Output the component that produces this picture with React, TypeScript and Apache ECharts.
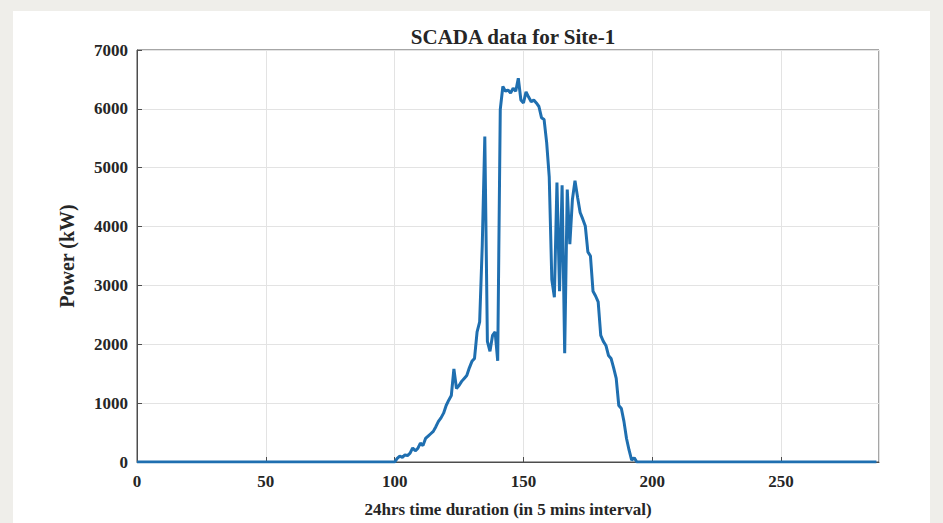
import React, { useEffect, useRef } from "react";
import * as echarts from "echarts";

const titleText = "SCADA data for Site-1";
const xAxisName = "24hrs time duration (in 5 mins interval)";
const yAxisName = "Power (kW)";
const totalPoints = 288;
const activeStart = 101;
// power values (kW) for intervals 101..194, all other intervals are 0
const activeValues = [
  60, 100, 80, 120, 110, 150, 240, 190, 230, 320,
  280, 400, 440, 480, 520, 600, 690, 750, 830, 960,
  1050, 1130, 1580, 1250, 1300, 1370, 1420, 1470, 1600, 1710,
  1760, 2210, 2380, 3670, 5530, 2050, 1880, 2150, 2210, 1720,
  5990, 6380, 6300, 6320, 6270, 6350, 6300, 6520, 6150, 6100,
  6290, 6200, 6120, 6150, 6100, 6040, 5850, 5820, 5430, 4850,
  3100, 2800, 4750, 2900, 4700, 1850, 4630, 3700, 4460, 4780,
  4500, 4240, 4130, 4010, 3570, 3500, 2900, 2820, 2720, 2150,
  2050, 1980, 1810, 1760, 1600, 1420, 960, 910, 690, 400,
  200, 30, 70, 0,
];
const xTicks = [0, 50, 100, 150, 200, 250];
const yTicks = [0, 1000, 2000, 3000, 4000, 5000, 6000, 7000];

export default function App() {
  const ref = useRef<HTMLDivElement>(null);
  useEffect(() => {
    if (!ref.current) return;
    const chart = echarts.init(ref.current, null, { renderer: "svg" });
    const data: [number, number][] = [];
    for (let i = 0; i < totalPoints; i++) {
      const k = i - activeStart;
      const v = k >= 0 && k < activeValues.length ? activeValues[k] : 0;
      data.push([i, v]);
    }
    const font = "'Liberation Serif', 'Times New Roman', serif";
    const txt = "#262626";
    chart.setOption({
      animation: false,
      backgroundColor: "#ffffff",
      title: {
        text: titleText,
        left: 495,
        top: 10,
        textAlign: "center",
        textStyle: { fontFamily: font, fontWeight: "bold", fontSize: 21, color: txt },
      },
      grid: {
        left: 124,
        top: 39,
        width: 742,
        height: 415,
        show: true,
        borderColor: "#4d4d4d",
        borderWidth: 1,
        backgroundColor: "#ffffff",
      },
      xAxis: {
        type: "value",
        min: 0,
        max: totalPoints,
        interval: 50,
        name: xAxisName,
        nameLocation: "middle",
        nameGap: 39,
        nameTextStyle: { fontFamily: font, fontWeight: "bold", fontSize: 17, color: txt },
        axisLine: { show: true, lineStyle: { color: "#4d4d4d", width: 1 } },
        axisTick: { show: true, inside: true, length: 5, lineStyle: { color: "#4d4d4d" } },
        axisLabel: {
          fontFamily: font,
          fontWeight: "bold",
          fontSize: 17,
          color: txt,
          margin: 11,
          showMaxLabel: false,
          formatter: (v: number) => (xTicks.includes(v) ? String(v) : ""),
        },
        splitLine: { show: true, lineStyle: { color: "#e3e3e3", width: 1 } },
      },
      yAxis: {
        type: "value",
        min: 0,
        max: 7000,
        interval: 1000,
        name: yAxisName,
        nameLocation: "middle",
        nameGap: 60,
        nameRotate: 90,
        nameTextStyle: { fontFamily: font, fontWeight: "bold", fontSize: 20, color: txt },
        axisLine: { show: true, lineStyle: { color: "#4d4d4d", width: 1 } },
        axisTick: { show: true, inside: true, length: 5, lineStyle: { color: "#4d4d4d" } },
        axisLabel: {
          fontFamily: font,
          fontWeight: "bold",
          fontSize: 17,
          color: txt,
          margin: 9,
          formatter: (v: number) => (yTicks.includes(v) ? String(v) : ""),
        },
        splitLine: { show: true, lineStyle: { color: "#e3e3e3", width: 1 } },
      },
      series: [
        {
          type: "line",
          data,
          showSymbol: false,
          symbol: "none",
          lineStyle: { color: "#1f6fb0", width: 3 },
          z: 3,
        },
      ],
    });
    return () => chart.dispose();
  }, []);
  return (
    <div
      style={{
        position: "fixed",
        left: 0,
        top: 0,
        width: 943,
        height: 523,
        background: "#efeeea",
      }}
    >
      <div
        ref={ref}
        style={{ position: "absolute", left: 13, top: 11, width: 917, height: 512, background: "#fff" }}
      />
    </div>
  );
}
